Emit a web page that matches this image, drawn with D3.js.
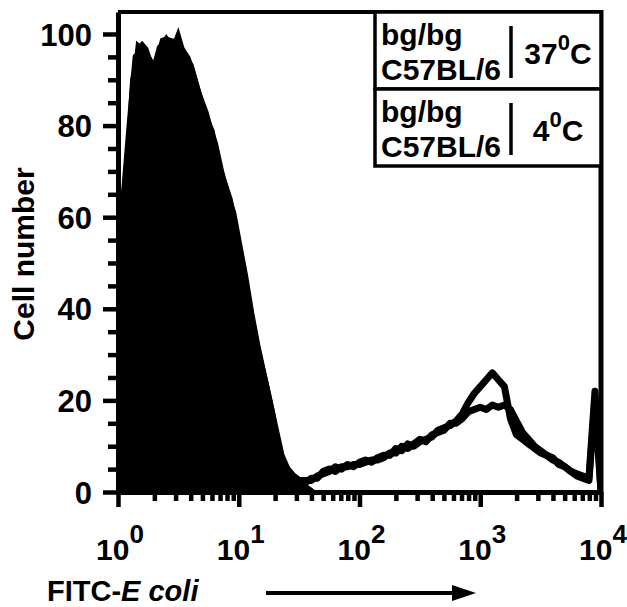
<!DOCTYPE html>
<html>
<head>
<meta charset="utf-8">
<script src="https://cdn.jsdelivr.net/npm/d3@7"></script>
<style>
  body { margin: 0; background: #fff; }
  svg text { font-family: "Liberation Sans", Arial, sans-serif; font-weight: bold; fill: #000; }
</style>
</head>
<body>
<svg id="chart" width="627" height="607"></svg>
<script>
// channel positions, in decades (log10 of FITC intensity)
const logFitc = [
  0.00, 0.05, 0.10, 0.15, 0.20, 0.25, 0.30, 0.35, 0.40, 0.45,
  0.50, 0.55, 0.60, 0.65, 0.70, 0.75, 0.80, 0.85, 0.90, 0.95,
  1.00, 1.05, 1.10, 1.15, 1.20, 1.25, 1.30, 1.35, 1.40, 1.45,
  1.50, 1.55, 1.60, 1.65, 1.70, 1.75, 1.80, 1.85, 1.90, 1.95,
  2.00, 2.05, 2.10, 2.15, 2.20, 2.25, 2.30, 2.35, 2.40, 2.45,
  2.50, 2.55, 2.60, 2.65, 2.70, 2.75, 2.80, 2.85, 2.90, 2.95,
  3.00, 3.05, 3.10, 3.15, 3.20, 3.25, 3.30, 3.35, 3.40, 3.45,
  3.50, 3.55, 3.60, 3.65, 3.70, 3.75, 3.80, 3.85, 3.90, 3.95,
  4.00
];

// 4 C samples (filled histograms)
const bgbg4C = [
  64, 66, 86, 98.5, 97.5, 96, 94, 99, 99.5, 99,
  99, 96.5, 94.5, 90, 85.5, 82, 79, 72, 67.5, 63,
  56, 49, 41, 34, 28, 22.5, 17, 9, 5, 3.5,
  2.5, 1.5, 1, 0, 0, 0, 0, 0, 0, 0,
  0, 0, 0, 0, 0, 0, 0, 0, 0, 0,
  0, 0, 0, 0, 0, 0, 0, 0, 0, 0,
  0, 0, 0, 0, 0, 0, 0, 0, 0, 0,
  0, 0, 0, 0, 0, 0, 0, 0, 0, 0,
  0
];
const c57bl4C = [
  62, 68, 90, 97, 98.5, 97, 93, 98, 100, 98,
  101.5, 97, 95, 91, 86.5, 83, 78, 71, 68, 64,
  57, 50, 42, 35, 29, 23.5, 17.5, 10, 5.5, 4,
  3, 2, 1, 0, 0, 0, 0, 0, 0, 0,
  0, 0, 0, 0, 0, 0, 0, 0, 0, 0,
  0, 0, 0, 0, 0, 0, 0, 0, 0, 0,
  0, 0, 0, 0, 0, 0, 0, 0, 0, 0,
  0, 0, 0, 0, 0, 0, 0, 0, 0, 0,
  0
];

// 37 C samples (thick outlines)
const bgbg37C = [
  60, 64, 80, 95, 96, 94, 92, 97, 98, 97,
  98, 95, 93, 88, 84, 80, 76, 70, 65, 61,
  54, 47, 39, 32, 26, 20, 14, 8, 5, 3.5,
  2.5, 2.5, 2.5, 3.5, 4, 4.5, 5.5, 5, 6, 5.5,
  6.5, 7, 6.5, 7.5, 8, 8, 9.5, 9, 10.5, 10,
  11, 11.5, 12, 13.5, 14, 14.5, 15.5, 17, 19.5, 21.5,
  23, 24.5, 26, 24.5, 23, 16, 12.5, 11.5, 10.5, 9.5,
  8.5, 8, 7, 6.5, 5.5, 4.5, 4, 3.5, 3, 22,
  0
];
const c57bl37C = [
  58, 63, 78, 93, 95, 93, 90, 95, 97, 96,
  97, 94, 92, 87, 83, 79, 75, 69, 64, 60,
  53, 46, 38, 31, 25, 19, 13, 7.5, 4.5, 3,
  2, 2, 3, 3, 4.5, 5, 4.5, 5.5, 5.5, 6,
  6, 6.5, 7, 7, 7.5, 8.5, 8.5, 10, 9.5, 10.5,
  11.5, 11, 12.5, 13, 13.5, 15, 15, 16, 17.5, 18,
  18.5, 18, 19, 18.5, 19, 18, 15.5, 13, 11.5, 10,
  9, 8, 7.5, 6, 5.5, 4.5, 3.5, 3, 2.5, 20,
  0
];

const yMajor = [0, 20, 40, 60, 80, 100];
const yMinor = [5, 10, 15, 25, 30, 35, 45, 50, 55, 65, 70, 75, 85, 90, 95];
const xMajor = [1, 10, 100, 1000, 10000];
const xExponents = ['0', '1', '2', '3', '4'];
const xMinor = [1, 10, 100, 1000].flatMap(d => [2, 3, 4, 5, 6, 7, 8, 9].map(k => k * d));

const legendRows = [
  {strains: ['bg/bg', 'C57BL/6'], temp: '37'},
  {strains: ['bg/bg', 'C57BL/6'], temp: '4'}
];

const margin = {left: 118, top: 12, right: 601, bottom: 492};
const svg = d3.select('#chart');

const x = d3.scaleLog().domain([1, 1e4]).range([margin.left, margin.right]);
const y = d3.scaleLinear().domain([0, 104.8]).range([margin.bottom, margin.top]);

const toPoints = values => values.map((v, i) => ({lx: logFitc[i], v}));

svg.append('clipPath').attr('id', 'plot-clip')
  .append('rect')
  .attr('x', margin.left).attr('y', margin.top)
  .attr('width', margin.right - margin.left)
  .attr('height', margin.bottom - margin.top);

const plot = svg.append('g').attr('clip-path', 'url(#plot-clip)');

// filled 4 C histograms
const area = d3.area()
  .x(d => x(Math.pow(10, d.lx)))
  .y0(y(0))
  .y1(d => y(d.v));

plot.selectAll('path.fill')
  .data([bgbg4C, c57bl4C].map(toPoints))
  .join('path')
  .attr('class', 'fill')
  .attr('d', area)
  .attr('fill', '#000');

// 37 C outlines
const line = d3.line()
  .x(d => x(Math.pow(10, d.lx)))
  .y(d => y(d.v));

plot.selectAll('path.outline')
  .data([bgbg37C, c57bl37C].map(toPoints))
  .join('path')
  .attr('class', 'outline')
  .attr('d', line)
  .attr('fill', 'none')
  .attr('stroke', '#000')
  .attr('stroke-width', 7)
  .attr('stroke-linejoin', 'round');

// y axis: minor then major ticks
svg.append('g')
  .attr('transform', `translate(${margin.left},0)`)
  .call(d3.axisLeft(y).tickValues(yMinor).tickSize(10).tickSizeOuter(0).tickFormat(''))
  .call(g => g.select('.domain').remove());

const yAxis = svg.append('g')
  .attr('transform', `translate(${margin.left},0)`)
  .call(d3.axisLeft(y).tickValues(yMajor).tickSize(15).tickSizeOuter(0).tickPadding(11));
yAxis.selectAll('text')
  .attr('font-size', 31)
  .attr('font-family', null)
  .attr('dy', '0.36em');

// x axis: minor then major ticks, labels drawn as powers of ten
svg.append('g')
  .attr('transform', `translate(0,${margin.bottom})`)
  .call(d3.axisBottom(x).tickValues(xMinor).tickSize(9).tickSizeOuter(0).tickFormat(''))
  .call(g => g.select('.domain').remove());

svg.append('g')
  .attr('transform', `translate(0,${margin.bottom})`)
  .call(d3.axisBottom(x).tickValues(xMajor).tickSize(15).tickSizeOuter(0).tickFormat(''));

svg.selectAll('.tick line').attr('stroke-width', 4.5);
svg.selectAll('.domain').attr('stroke-width', 5);

const xLabels = svg.append('g')
  .selectAll('text')
  .data(xMajor)
  .join('text')
  .attr('x', d => x(d) + 2)
  .attr('y', 560)
  .attr('text-anchor', 'middle');
xLabels.append('tspan').attr('font-size', 30).text('10');
xLabels.append('tspan').attr('font-size', 26).attr('dy', -17).text((d, i) => xExponents[i]);

// top and right frame
svg.append('line')
  .attr('x1', margin.left).attr('x2', margin.right)
  .attr('y1', margin.top).attr('y2', margin.top)
  .attr('stroke', '#000').attr('stroke-width', 4);
svg.append('line')
  .attr('x1', margin.right).attr('x2', margin.right)
  .attr('y1', margin.top - 2).attr('y2', margin.bottom + 2)
  .attr('stroke', '#000').attr('stroke-width', 5);

// axis titles
svg.append('text')
  .attr('transform', 'translate(34,254) rotate(-90)')
  .attr('text-anchor', 'middle')
  .attr('font-size', 30)
  .text('Cell number');

const xTitle = svg.append('text')
  .attr('x', 47).attr('y', 601)
  .attr('font-size', 29);
xTitle.append('tspan').text('FITC-');
xTitle.append('tspan').attr('font-style', 'italic').text('E coli');

svg.append('line')
  .attr('x1', 266).attr('x2', 458)
  .attr('y1', 593).attr('y2', 593)
  .attr('stroke', '#000').attr('stroke-width', 4);
svg.append('path')
  .attr('d', 'M452,585 L476,593 L452,601 Z')
  .attr('fill', '#000');

// legend box in the upper right corner
const legend = {left: 375, rowH: 77};
const rows = svg.append('g')
  .selectAll('g')
  .data(legendRows)
  .join('g')
  .attr('transform', (d, i) => `translate(${legend.left},${margin.top + i * legend.rowH})`);

rows.append('rect')
  .attr('width', margin.right - legend.left)
  .attr('height', legend.rowH)
  .attr('fill', '#fff')
  .attr('stroke', '#000')
  .attr('stroke-width', 3.5);

rows.selectAll('text.strain')
  .data(d => d.strains)
  .join('text')
  .attr('class', 'strain')
  .attr('x', 6)
  .attr('y', (d, i) => 33 + i * 35)
  .attr('font-size', 30)
  .text(d => d);

rows.append('line')
  .attr('x1', 136).attr('x2', 136)
  .attr('y1', 14).attr('y2', 66)
  .attr('stroke', '#000').attr('stroke-width', 3.5);

const temps = rows.append('text')
  .attr('x', 183)
  .attr('y', 52)
  .attr('text-anchor', 'middle')
  .attr('font-size', 30);
temps.append('tspan').text(d => d.temp);
temps.append('tspan').attr('font-size', 22).attr('dy', -14).text('0');
temps.append('tspan').attr('dy', 14).text('C');
</script>
</body>
</html>
